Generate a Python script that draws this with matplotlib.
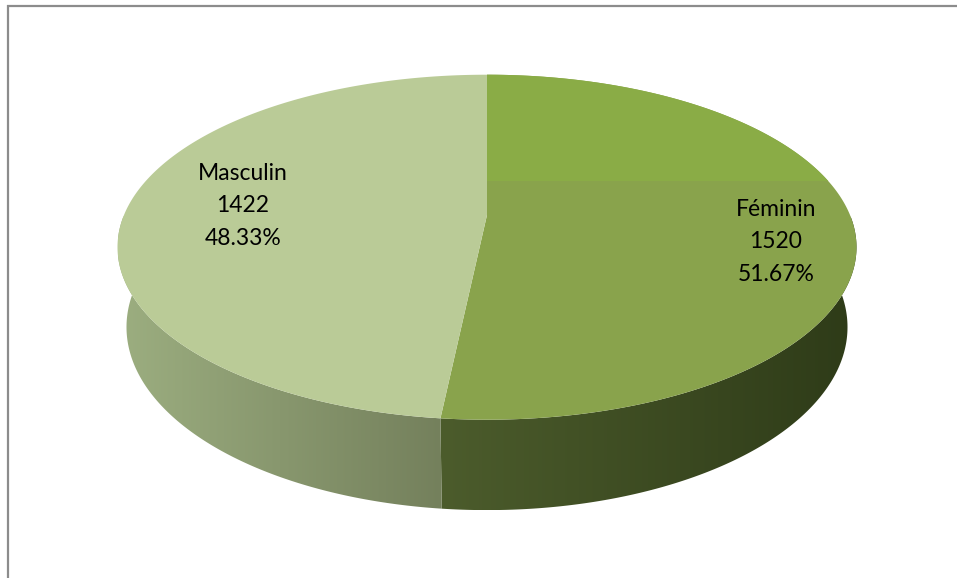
import numpy as np
import matplotlib
matplotlib.use("Agg")
import matplotlib.pyplot as plt
from matplotlib.patches import Polygon, Rectangle

# data
labels = ["Féminin", "Masculin"]
counts = [1520, 1422]
percents = ["51.67%", "48.33%"]

top_colors = ["#89a34c", "#bacb97"]
top_highlight = "#8aac46"
side_colors = [("#4c5c2c", "#2e3b18"), ("#9cae80", "#74805c")]

# camera / disc geometry (pixel space)
cx, cy = 487, 215
scale = 363.0
dist = 4.76
elev = np.radians(27.3)
s, c = np.sin(elev), np.cos(elev)
depth_h = 0.25


def proj(theta, z):
    X = np.cos(theta)
    Y = np.sin(theta)
    yc = Y * s + z * c
    dep = dist + Y * c - z * s
    u = scale * dist * X / dep
    v = scale * dist * yc / dep
    return np.column_stack([cx + u, cy - v])


fig = plt.figure(figsize=(9.57, 5.78), dpi=100)
ax = fig.add_axes([0, 0, 1, 1])
ax.set_xlim(0, 957)
ax.set_ylim(578, 0)
ax.axis("off")

# frame lines at top and left
ax.plot([7, 957], [5.5, 5.5], color="#8c8c8c", lw=1.6, solid_capstyle="butt")
ax.plot([7.5, 7.5], [5, 578], color="#8c8c8c", lw=1.6, solid_capstyle="butt")

total = sum(counts)
fracs = np.array(counts) / total
start = np.pi / 2
bounds = []
for f in fracs:
    end = start - 2 * np.pi * f
    bounds.append((start, end))
    start = end

# side walls (front half only), horizontal gradient
grad = np.linspace(0, 1, 256).reshape(1, -1)
for (a0, a1), (cl, cr) in zip(bounds, side_colors):
    lo, hi = min(a0, a1), max(a0, a1)
    # bring to the range [-pi, 0] which faces the viewer
    ths = np.linspace(lo, hi, 400)
    ths = np.mod(ths + np.pi, 2 * np.pi) - np.pi
    ths = ths[ths <= 0]
    if len(ths) < 2:
        continue
    ths = np.sort(ths)
    topc = proj(ths, 0.0)
    botc = proj(ths, -depth_h)
    pts = np.vstack([topc, botc[::-1]])
    poly = Polygon(pts, closed=True, facecolor="none", edgecolor="none")
    ax.add_patch(poly)
    x0, x1 = pts[:, 0].min(), pts[:, 0].max()
    y0, y1 = pts[:, 1].min(), pts[:, 1].max()
    cmap = matplotlib.colors.LinearSegmentedColormap.from_list("g", [cl, cr])
    im = ax.imshow(grad, cmap=cmap, extent=[x0, x1, y1, y0], aspect="auto",
                   interpolation="bilinear")
    im.set_clip_path(poly)

# top faces
center = np.array([[cx, cy]])
for i, ((a0, a1), col) in enumerate(zip(bounds, top_colors)):
    ths = np.linspace(a0, a1, 400)
    pts = np.vstack([center, proj(ths, 0.0)])
    poly = Polygon(pts, closed=True, facecolor=col, edgecolor="none")
    ax.add_patch(poly)
    if i == 0:
        band = Rectangle((0, 0), 957, 181, facecolor=top_highlight,
                         edgecolor="none")
        ax.add_patch(band)
        band.set_clip_path(poly)

# data labels
label_pos = [(776, 242), (243, 206)]
for lab, n, p, (tx, ty) in zip(labels, counts, percents, label_pos):
    ax.text(tx, ty, f"{lab}\n{n}\n{p}", ha="center", va="center",
            fontsize=16.5, family=["Lato", "DejaVu Sans"], color="#000000",
            linespacing=1.68)

fig.savefig("out.png", dpi=100)
